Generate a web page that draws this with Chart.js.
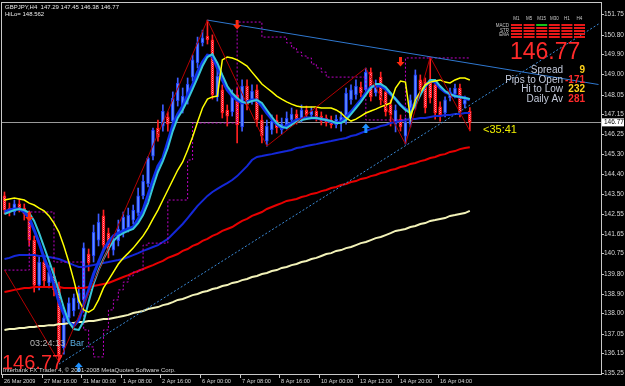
<!DOCTYPE html>
<html>
<head>
<meta charset="utf-8">
<title>GBPJPY,H4</title>
<script src="https://cdn.jsdelivr.net/npm/chart.js@4.4.1/dist/chart.umd.min.js"></script>
<style>
  html, body { margin: 0; padding: 0; background: #000; }
  canvas { display: block; }
</style>
</head>
<body>
<canvas id="priceChart" width="625" height="386"></canvas>
<script>
// H4 bars
const opens = [
  143.39,142.83,142.65,143.02,142.83,142.56,141.36,139.29,140.35,139.39,
  139.71,139.25,136.40,137.78,138.10,138.47,138.61,140.72,140.63,141.36,
  142.47,141.68,140.90,141.32,141.73,141.91,142.28,142.60,143.39,143.94,
  145.22,146.51,146.60,147.02,146.83,147.75,147.43,147.84,148.85,149.50,
  150.42,150.74,150.56,147.94,148.26,147.34,147.25,148.03,146.56,148.44,
  147.75,148.26,146.88,145.91,146.42,146.88,146.42,146.65,146.88,147.15,
  146.97,147.34,147.11,147.29,147.06,146.97,146.88,146.65,146.74,146.88,
  147.80,148.03,148.39,148.26,149.08,148.12,148.85,148.17,147.57,146.69,
  146.92,146.14,146.69,147.52,148.72,148.62,148.72,148.49,147.48,147.20,
  147.89,148.07,148.35,147.61,147.29
];
const highs = [
  143.57,143.06,143.20,143.25,143.02,142.70,141.55,140.58,140.67,140.17,
  140.08,139.43,138.05,138.70,138.88,139.25,141.23,140.95,142.05,142.56,
  142.74,141.91,141.55,142.28,142.65,142.83,142.97,143.75,144.35,145.18,
  146.51,146.88,147.57,147.25,148.17,148.81,148.35,148.81,149.87,150.69,
  151.01,151.47,150.79,149.18,148.49,147.57,148.26,148.35,148.72,148.72,
  148.49,148.49,147.11,146.88,147.11,147.11,146.97,147.25,147.43,147.34,
  147.57,147.52,147.48,147.43,147.25,147.11,147.06,147.11,147.25,148.35,
  148.49,148.72,148.62,149.27,149.27,148.72,149.08,148.35,147.80,147.57,
  147.11,146.97,148.03,149.18,148.95,148.81,149.77,148.72,147.71,147.94,
  148.35,148.53,148.53,147.98,147.45
];
const lows = [
  142.56,142.47,142.51,142.65,142.28,141.09,138.97,139.07,139.20,139.16,
  138.79,135.76,136.12,137.55,137.87,138.19,138.42,139.94,140.35,141.09,
  140.81,140.54,140.67,141.09,141.50,141.73,142.10,142.47,143.25,143.80,
  145.04,145.91,146.37,146.37,146.60,147.52,147.20,147.61,148.67,149.27,
  150.28,150.37,147.84,147.75,146.97,146.60,147.06,145.82,146.37,147.34,
  147.61,146.60,145.82,145.68,146.23,146.28,146.23,146.46,146.69,146.69,
  146.79,147.02,147.02,146.83,146.65,146.60,146.51,146.51,146.37,146.69,
  147.61,147.84,147.94,148.07,147.75,147.98,147.57,147.06,146.60,146.33,
  146.37,145.77,146.56,147.38,147.98,147.20,147.66,146.92,146.83,147.02,
  147.75,147.89,147.02,147.43,146.38
];
const closes = [
  142.74,142.65,143.02,142.79,142.56,141.36,139.29,140.35,139.48,139.89,
  139.07,136.08,137.78,138.47,138.70,138.93,141.00,140.31,141.73,142.19,
  141.13,140.90,141.32,141.87,142.42,142.51,142.74,143.39,144.07,145.13,
  146.42,146.10,147.29,146.69,147.89,148.58,147.98,148.53,149.64,150.42,
  150.65,150.56,148.03,148.90,147.20,147.06,147.98,146.65,148.44,147.57,
  148.21,146.88,146.14,146.60,146.83,146.51,146.69,146.97,147.15,146.88,
  147.34,147.11,147.29,147.02,146.83,146.74,146.65,146.92,147.02,148.12,
  148.26,148.44,148.12,149.08,147.94,148.49,147.80,147.25,147.11,147.34,
  146.56,146.79,147.80,148.95,148.26,147.43,147.89,147.20,147.11,147.80,
  148.17,148.35,147.25,147.80,146.77
];

// moving averages
const maFastBlue = [
  142.65,142.74,142.79,142.79,142.65,142.37,141.82,141.22,140.54,139.98,
  139.29,138.51,137.96,137.59,137.41,137.69,138.38,139.07,139.80,140.35,
  140.90,141.27,141.55,141.68,141.78,141.87,141.96,142.33,142.74,143.43,
  144.12,144.76,145.13,145.87,146.65,147.15,147.52,148.03,148.49,149.08,
  149.54,149.86,149.82,149.27,148.72,148.26,147.98,147.80,147.66,147.71,
  147.80,147.80,147.52,147.20,146.92,146.69,146.51,146.60,146.74,146.88,
  146.92,146.97,146.97,146.97,146.92,146.88,146.79,146.74,146.79,147.02,
  147.25,147.52,147.80,148.12,148.39,148.44,148.44,148.30,148.07,147.84,
  147.57,147.38,147.29,147.71,148.12,148.44,148.67,148.62,148.35,148.17,
  148.07,147.98,147.94,147.89,147.80
];
const maFastCyan = [
  142.56,142.65,142.74,142.79,142.74,142.60,142.24,141.68,141.04,140.40,
  139.75,139.02,138.24,137.59,137.27,137.23,137.64,138.51,139.34,139.98,
  140.49,140.95,141.32,141.55,141.68,141.78,141.87,142.14,142.51,143.06,
  143.80,144.49,144.99,145.59,146.37,146.97,147.34,147.80,148.30,148.81,
  149.36,149.77,149.91,149.50,148.95,148.44,148.12,147.89,147.71,147.66,
  147.75,147.80,147.66,147.34,147.02,146.74,146.56,146.51,146.65,146.79,
  146.88,146.92,146.97,146.97,146.92,146.88,146.83,146.74,146.74,146.88,
  147.15,147.43,147.71,148.03,148.35,148.53,148.53,148.39,148.12,147.84,
  147.57,147.34,147.20,147.57,148.03,148.44,148.72,148.72,148.44,148.21,
  148.07,147.98,147.94,147.89,147.84
];
const maYellow = [
  143.20,143.25,143.29,143.25,143.20,143.06,142.97,142.83,142.70,142.47,
  142.14,141.73,141.09,140.35,139.52,138.61,138.15,138.05,138.19,138.61,
  139.16,139.52,139.89,140.26,140.54,140.76,140.99,141.27,141.55,141.91,
  142.33,142.74,143.20,143.66,144.12,144.58,144.95,145.50,146.10,146.79,
  147.43,147.84,147.94,147.98,149.64,149.77,149.73,149.64,149.50,149.36,
  149.08,148.81,148.53,148.35,148.17,147.98,147.84,147.71,147.61,147.52,
  147.48,147.48,147.48,147.48,147.43,147.43,147.43,147.34,147.20,146.97,
  146.83,146.92,147.06,147.20,147.29,147.38,147.48,147.57,147.66,148.35,
  148.67,148.62,146.97,147.80,148.17,148.49,148.62,148.67,148.72,148.62,
  148.58,148.72,148.81,148.81,148.72
];
const maSlowBlue = [
  140.49,140.54,140.63,140.67,140.67,140.67,140.67,140.63,140.63,140.58,
  140.54,140.49,140.40,140.31,140.21,140.12,140.12,140.17,140.21,140.26,
  140.31,140.35,140.40,140.44,140.49,140.58,140.67,140.76,140.86,140.95,
  141.04,141.13,141.27,141.41,141.64,141.87,142.10,142.37,142.65,142.93,
  143.16,143.39,143.57,143.71,143.85,143.98,144.12,144.30,144.53,144.76,
  145.04,145.18,145.22,145.27,145.31,145.36,145.41,145.45,145.50,145.59,
  145.63,145.68,145.73,145.77,145.82,145.87,145.91,145.96,146.01,146.05,
  146.14,146.19,146.28,146.37,146.46,146.51,146.60,146.65,146.74,146.79,
  146.83,146.88,146.92,146.92,146.97,146.97,147.02,147.06,147.06,147.11,
  147.11,147.15,147.15,147.20,147.20
];
const maSlowRed = [
  138.97,139.02,139.07,139.11,139.16,139.16,139.20,139.20,139.20,139.20,
  139.20,139.20,139.16,139.16,139.16,139.16,139.16,139.20,139.25,139.29,
  139.34,139.39,139.48,139.57,139.66,139.75,139.85,139.94,140.03,140.12,
  140.21,140.31,140.40,140.54,140.63,140.72,140.86,140.95,141.09,141.18,
  141.32,141.41,141.55,141.64,141.78,141.87,141.96,142.10,142.24,142.33,
  142.47,142.56,142.65,142.79,142.88,142.97,143.06,143.16,143.20,143.25,
  143.34,143.39,143.48,143.52,143.61,143.66,143.75,143.80,143.89,143.94,
  144.03,144.07,144.17,144.21,144.30,144.35,144.44,144.49,144.58,144.63,
  144.72,144.76,144.86,144.90,144.99,145.04,145.13,145.18,145.27,145.31,
  145.41,145.45,145.54,145.59,145.63
];
const maCream = [
  137.23,137.27,137.27,137.32,137.32,137.36,137.36,137.41,137.41,137.45,
  137.45,137.50,137.50,137.55,137.55,137.59,137.59,137.64,137.64,137.69,
  137.73,137.73,137.78,137.82,137.87,137.92,138.01,138.05,138.10,138.19,
  138.24,138.28,138.37,138.42,138.51,138.61,138.65,138.74,138.83,138.88,
  138.97,139.02,139.11,139.16,139.25,139.29,139.39,139.43,139.52,139.57,
  139.66,139.71,139.80,139.85,139.94,139.98,140.08,140.12,140.21,140.26,
  140.35,140.40,140.49,140.54,140.63,140.72,140.76,140.86,140.90,140.99,
  141.04,141.13,141.22,141.27,141.36,141.45,141.50,141.59,141.68,141.78,
  141.82,141.87,141.96,142.01,142.10,142.14,142.24,142.28,142.33,142.37,
  142.47,142.51,142.56,142.60,142.70
];
const hiloLine = [
  139.98,139.98,139.98,139.98,139.98,142.65,142.65,142.65,142.65,142.65,
  140.35,140.35,140.35,140.35,140.35,140.35,137.23,136.45,135.99,135.99,
  137.23,138.15,138.61,139.07,139.43,139.71,139.89,139.98,141.13,141.22,
  141.22,141.22,141.22,143.20,143.20,143.20,143.20,145.04,146.74,146.74,
  146.74,146.74,146.74,146.74,146.74,146.74,146.74,151.38,151.38,151.38,
  151.38,151.38,150.69,150.69,150.69,150.69,150.69,150.42,150.19,150.00,
  149.82,149.73,149.45,149.27,149.08,148.85,148.85,148.85,148.85,148.85,
  148.85,148.85,148.85,146.88,146.88,146.88,146.88,146.88,146.88,146.88,
  146.88,149.73,149.73,149.73,149.73,149.73,149.73,149.73,149.73,149.73,
  149.73,149.73,149.73,149.73,149.73
];

// [bar index, price]
const zigzagPivots = [[0,139.98],[11,135.76],[41,151.47],[53,145.68],[73,149.27],[81,145.77],[86,149.77],[94,146.38]];
const trendDown = [[41,151.47],[120,148.51]];
const trendUp = [[11,135.66],[120,151.29]];
const arrowsDown = [[5,142.42],[47,151.24],[80,149.54]];
const arrowsUp = [[15,135.53],[73,146.51]];

const yTicks = [151.75,150.80,149.90,149.00,148.05,147.15,146.25,145.30,144.40,143.50,142.55,141.65,140.75,139.80,138.90,138.00,137.05,136.15,135.25];
const xTickIndex = [0,8,16,24,32,40,48,56,64,72,80,88];
const xTickLabels = ['26 Mar 2009','27 Mar 16:00','31 Mar 00:00','1 Apr 08:00','2 Apr 16:00','6 Apr 00:00','7 Apr 08:00','8 Apr 16:00','10 Apr 00:00','13 Apr 12:00','14 Apr 20:00','16 Apr 04:00'];
const slotCount = 121;

const infoRows = [['Spread','9','#ffd21a'],['Pips to Open','-171','#ff2a2a'],['Hi to Low','232','#ffd21a'],['Daily Av','281','#ff2a2a']];
const tfNames = ['M1','M5','M15','M30','H1','H4'];
const tfRows = ['MACD','STR','EMA'];

const FONT = '"Liberation Sans", Arial, sans-serif';

document.addEventListener('DOMContentLoaded', function() {
  const canvas = document.getElementById('priceChart');
  const ctx = canvas.getContext('2d');

  const tile = document.createElement('canvas');
  tile.width = 2; tile.height = 2;
  const t = tile.getContext('2d');
  t.fillStyle = '#ff1414'; t.fillRect(0, 0, 2, 2);
  t.fillStyle = '#ff8fb0'; t.fillRect(0, 0, 1, 1); t.fillRect(1, 1, 1, 1);
  const bearFill = ctx.createPattern(tile, 'repeat');

  const last = closes.length - 1;
  const lastPrice = closes[last];
  const isBull = closes.map((c, i) => c >= opens[i]);

  function sparse(points) {
    const out = new Array(slotCount).fill(null);
    points.forEach(([i, v]) => { out[i] = v; });
    return out;
  }

  function line(data, color, width, order, extra) {
    return Object.assign({
      type: 'line', data: data, borderColor: color, borderWidth: width,
      pointRadius: 0, fill: false, tension: 0, order: order
    }, extra || {});
  }

  function drawArrow(c, x, y, up, color) {
    const d = up ? -1 : 1;
    c.fillStyle = color;
    c.beginPath();
    c.moveTo(x - 1.5, y - 5 * d);
    c.lineTo(x + 1.5, y - 5 * d);
    c.lineTo(x + 1.5, y);
    c.lineTo(x + 4, y);
    c.lineTo(x, y + 4.5 * d);
    c.lineTo(x - 4, y);
    c.lineTo(x - 1.5, y);
    c.closePath();
    c.fill();
  }

  const decor = {
    id: 'decor',
    beforeDatasetsDraw(chart) {
      const c = chart.ctx, a = chart.chartArea, y = chart.scales.y;
      const py = Math.round(y.getPixelForValue(lastPrice)) + 0.5;
      c.save();
      c.strokeStyle = '#9a9a9a';
      c.lineWidth = 1;
      c.beginPath(); c.moveTo(a.left, py); c.lineTo(a.right, py); c.stroke();
      c.restore();
    },
    afterDraw(chart) {
      const c = chart.ctx, a = chart.chartArea;
      const x = chart.scales.x, y = chart.scales.y;
      const slot = (a.right - a.left) / slotCount;
      c.save();

      // frame
      c.strokeStyle = '#c8c8c8';
      c.lineWidth = 1;
      c.strokeRect(a.left - 0.5, a.top - 0.5, a.right - a.left + 1, a.bottom - a.top + 1);

      // price axis
      c.font = '6.5px ' + FONT;
      c.textBaseline = 'middle';
      c.textAlign = 'left';
      yTicks.forEach(v => {
        const py = Math.round(y.getPixelForValue(v)) + 0.5;
        c.beginPath(); c.moveTo(a.right, py); c.lineTo(a.right + 3, py); c.stroke();
        c.fillStyle = '#d8d8d8';
        c.fillText(v.toFixed(2), a.right + 3, py);
      });
      const lp = y.getPixelForValue(lastPrice);
      c.fillStyle = '#ffffff';
      c.fillRect(a.right + 1, lp - 4, 22, 8);
      c.fillStyle = '#000000';
      c.fillText(lastPrice.toFixed(2), a.right + 3, lp);

      // time axis
      c.textBaseline = 'alphabetic';
      c.font = '5.6px ' + FONT;
      xTickIndex.forEach((k, n) => {
        const px = Math.round(x.getPixelForValue(k) - slot / 2) + 0.5;
        c.beginPath(); c.moveTo(px, a.bottom); c.lineTo(px, a.bottom + 4); c.stroke();
        c.fillStyle = '#d8d8d8';
        c.fillText(xTickLabels[n], px + 1.5, a.bottom + 9);
      });

      // signal arrows
      arrowsDown.forEach(([i, v]) => drawArrow(c, x.getPixelForValue(i), y.getPixelForValue(v), false, '#ff2a10'));
      arrowsUp.forEach(([i, v]) => drawArrow(c, x.getPixelForValue(i), y.getPixelForValue(v), true, '#1e90ff'));

      // header
      c.fillStyle = '#e8e8e8';
      c.font = '6px ' + FONT;
      c.fillText('GBPJPY,H4  ' + opens[last].toFixed(2) + ' ' + highs[last].toFixed(2) + ' ' +
        lows[last].toFixed(2) + ' ' + closes[last].toFixed(2), 5, 9);
      c.fillText('HiLo= 148.562', 5, 16);

      // timeframe panel
      c.font = '4.5px ' + FONT;
      c.textAlign = 'center';
      c.fillStyle = '#c8c8c8';
      tfNames.forEach((nm, j) => c.fillText(nm, 516.5 + j * 12.6, 20));
      c.textAlign = 'right';
      tfRows.forEach((nm, r) => c.fillText(nm, 509, 27 + r * 4.5));
      tfNames.forEach((nm, j) => {
        for (let s = 0; s < 5; s++) {
          c.fillStyle = (j === 2 && s === 0) ? '#18c018' : '#e81818';
          c.fillRect(511 + j * 12.6, 24 + s * 3, 11, 2);
        }
      });

      c.textAlign = 'left';
      c.fillStyle = '#ff2a2a';
      c.font = '23px ' + FONT;
      c.fillText(lastPrice.toFixed(2), 510, 59);

      c.font = '10px ' + FONT;
      infoRows.forEach(([label, val, col], r) => {
        const by = 73 + r * 9.5;
        c.textAlign = 'right';
        c.fillStyle = '#c4cbdc';
        c.fillText(label, 563, by);
        c.fillStyle = col;
        c.font = 'bold 10px ' + FONT;
        c.fillText(val, 585, by);
        c.font = '10px ' + FONT;
      });

      c.textAlign = 'left';
      c.fillStyle = '#f0f000';
      c.font = '11px ' + FONT;
      c.fillText('<35:41', 483, 133);

      c.font = '9px ' + FONT;
      c.fillStyle = '#b8b8b8';
      c.fillText('03:24:13', 30, 346);
      c.fillStyle = '#5aaee0';
      c.fillText('Bar', 70, 346);

      c.fillStyle = '#ff2a2a';
      c.font = '20px ' + FONT;
      c.fillText(lastPrice.toFixed(2), 2, 369);

      c.fillStyle = '#d8d8d8';
      c.font = '6px ' + FONT;
      c.fillText('Interbank FX Trader 4, \u00a9 2001-2008 MetaQuotes Software Corp.', 3, 372);

      c.restore();
    }
  };

  const labels = Array.from({ length: slotCount }, (_, i) => i);

  const data = {
    labels: labels,
    datasets: [
      {
        type: 'bar',
        data: opens.map((o, i) => [o, closes[i]]),
        backgroundColor: isBull.map(b => b ? '#5f8cff' : bearFill),
        borderColor: isBull.map(b => b ? '#1a3cff' : '#ff1010'),
        borderWidth: 1,
        borderSkipped: false,
        barThickness: 3,
        minBarLength: 1,
        grouped: false,
        order: 8
      },
      {
        type: 'bar',
        data: lows.map((l, i) => [l, highs[i]]),
        backgroundColor: isBull.map(b => b ? '#3c5cff' : '#ff2020'),
        borderWidth: 0,
        barThickness: 1,
        grouped: false,
        order: 9
      },
      line(maCream, '#f2f2b8', 2, 7),
      line(maSlowRed, '#e80000', 2, 7),
      line(maSlowBlue, '#1428d8', 2, 7),
      line(hiloLine, '#c000c8', 1, 6, { stepped: true, borderDash: [2, 2] }),
      line(maFastBlue, '#1030e8', 3, 5),
      line(maFastCyan, '#38c8d8', 2, 4),
      line(maYellow, '#ffff00', 1.5, 3),
      line(sparse(zigzagPivots), '#b40000', 1, 2, { spanGaps: true }),
      line(sparse(trendDown), '#2f78d0', 1, 1, { spanGaps: true }),
      line(sparse(trendUp), '#3a8ad8', 1, 1, { spanGaps: true, borderDash: [2, 2] })
    ]
  };

  const config = {
    type: 'bar',
    data: data,
    options: {
      responsive: false,
      animation: false,
      events: [],
      layout: { padding: { left: 2, top: 3, right: 24, bottom: 12 } },
      scales: {
        x: { type: 'category', display: false, offset: true },
        y: { display: false, min: 135.204, max: 152.256 }
      },
      plugins: {
        legend: { display: false },
        tooltip: { enabled: false }
      }
    },
    plugins: [decor]
  };

  new Chart(ctx, config);
});
</script>
</body>
</html>
